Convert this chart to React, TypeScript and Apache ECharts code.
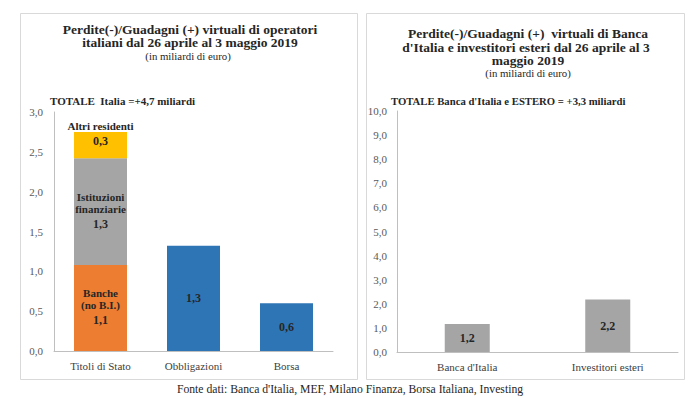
import React, { useEffect, useRef } from "react";
import * as echarts from "echarts";

const leftCategories = ["Titoli di Stato", "Obbligazioni", "Borsa"];
const banche = [1.08, null, null];
const istituzioni = [1.34, null, null];
const altri = [0.33, null, null];
const altriOperatori = [null, 1.32, 0.6];
const leftTicks = { min: 0, max: 3, interval: 0.5 };

const rightCategories = ["Banca d'Italia", "Investitori esteri"];
const rightValues = [1.16, 2.18];
const rightTicks = { min: 0, max: 10, interval: 1 };

const FONT = "'Liberation Serif', 'Times New Roman', serif";
const DARK = "#262626";

const fmt = (v: number) => v.toFixed(1).replace(".", ",");

export default function App() {
  const ref = useRef<HTMLDivElement>(null);
  useEffect(() => {
    if (!ref.current) return;
    const chart = echarts.init(ref.current, null, { renderer: "svg" });
    const axisLabel = { color: "#595959", fontFamily: FONT, fontSize: 11 };
    const catLabel = { color: "#404040", fontFamily: FONT, fontSize: 11, margin: 9 };
    const axisLine = { show: true, lineStyle: { color: "#BFBFBF", width: 1 } };
    const seg = (name: string, data: (number | null)[], color: string, fmtFn: (v: number) => string, offset: number[] = [0, 0]) => ({
      name,
      type: "bar",
      stack: "s",
      xAxisIndex: 0,
      yAxisIndex: 0,
      data,
      barWidth: 53,
      itemStyle: { color },
      label: {
        show: true,
        position: "inside",
        offset,
        fontFamily: FONT,
        color: DARK,
        formatter: (p: any) => fmtFn(p.value),
        rich: {
          a: { fontFamily: FONT, fontWeight: "bold", fontSize: 11, lineHeight: 12, color: DARK },
          b: { fontFamily: FONT, fontWeight: "bold", fontSize: 12, lineHeight: 18, color: DARK },
        },
      },
    });
    const text = (t: string, x: number, y: number, size: number, bold: boolean, align: string = "center") => ({
      type: "text",
      x,
      y,
      style: {
        text: t,
        fontFamily: FONT,
        fontSize: size,
        fontWeight: bold ? "bold" : "normal",
        fill: DARK,
        textAlign: align,
        textVerticalAlign: "middle",
      },
    });
    chart.setOption({
      animation: false,
      grid: [
        { left: 54, top: 112, right: 367, bottom: 47 },
        { left: 397, top: 111, right: 22, bottom: 46 },
      ],
      xAxis: [
        { type: "category", gridIndex: 0, data: leftCategories, axisLine, axisTick: { show: false }, axisLabel: catLabel },
        { type: "category", gridIndex: 1, data: rightCategories, axisLine, axisTick: { show: false }, axisLabel: catLabel },
      ],
      yAxis: [
        { type: "value", gridIndex: 0, ...leftTicks, axisLine, axisTick: { show: false }, splitLine: { show: false }, axisLabel: { ...axisLabel, margin: 11, formatter: (v: number) => fmt(v) } },
        { type: "value", gridIndex: 1, ...rightTicks, axisLine, axisTick: { show: false }, splitLine: { show: false }, axisLabel: { ...axisLabel, margin: 10, formatter: (v: number) => fmt(v) } },
      ],
      series: [
        seg("Banche (no B.I.)", banche, "#ED7D31", (v) => `{a|Banche}\n{a|(no B.I.)}\n{b|${fmt(v)}}`),
        seg("Istituzioni finanziarie", istituzioni, "#A5A5A5", (v) => `{a|Istituzioni}\n{a|finanziarie}\n{b|${fmt(v)}}`),
        seg("Altri residenti", altri, "#FFC000", (v) => `{a|Altri residenti}\n{b|${fmt(v)}}`, [0, -10]),
        seg("Altri", altriOperatori, "#2E75B6", (v) => `{b|${fmt(v)}}`),
        {
          name: "Estero",
          type: "bar",
          xAxisIndex: 1,
          yAxisIndex: 1,
          data: rightValues,
          barWidth: 45,
          itemStyle: { color: "#A5A5A5" },
          label: {
            show: true,
            position: "inside",
            fontFamily: FONT,
            fontWeight: "bold",
            fontSize: 12,
            color: DARK,
            formatter: (p: any) => fmt(p.value),
          },
        },
      ],
      graphic: [
        { type: "rect", shape: { x: 20.5, y: 13.5, width: 337, height: 366 }, style: { fill: "none", stroke: "#D9D9D9", lineWidth: 1 }, z: -1 },
        { type: "rect", shape: { x: 366.5, y: 13.5, width: 318, height: 366 }, style: { fill: "none", stroke: "#D9D9D9", lineWidth: 1 }, z: -1 },
        text("Perdite(-)/Guadagni (+) virtuali di operatori", 190, 29, 13.5, true),
        text("italiani dal 26 aprile al 3 maggio 2019", 190, 42.5, 13.5, true),
        text("(in miliardi di euro)", 188, 55.5, 10.8, false),
        text("TOTALE  Italia =+4,7 miliardi", 50, 101, 11, true, "left"),
        text("Perdite(-)/Guadagni (+)  virtuali di Banca", 528, 33.5, 13.5, true),
        text("d'Italia e investitori esteri dal 26 aprile al 3", 526, 47, 13.5, true),
        text("maggio 2019", 528, 60.5, 13.5, true),
        text("(in miliardi di euro)", 528, 73, 10.8, false),
        text("TOTALE Banca d'Italia e ESTERO = +3,3 miliardi", 391, 101, 10.7, true, "left"),
        text("Fonte dati: Banca d'Italia, MEF, Milano Finanza, Borsa Italiana, Investing", 350, 389, 11.7, false),
      ],
    });
    return () => chart.dispose();
  }, []);
  return (
    <div
      ref={ref}
      style={{ position: "fixed", left: 0, top: 0, width: 700, height: 398, background: "#fff" }}
    />
  );
}
